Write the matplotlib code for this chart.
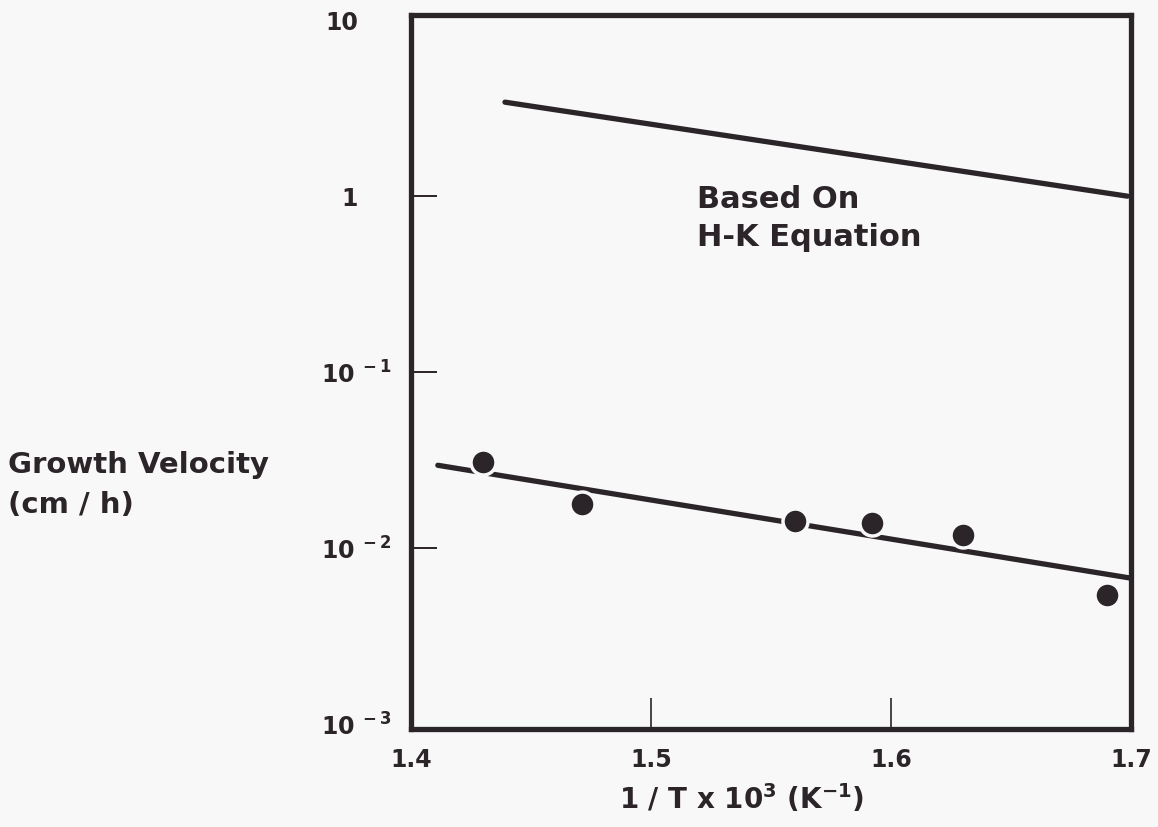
"""Growth velocity vs reciprocal temperature (log scale)."""

import matplotlib
matplotlib.use('Agg')
import matplotlib.pyplot as plt
import matplotlib.transforms as mtransforms
import numpy as np

plt.rcParams['font.family'] = ['DejaVu Sans']
plt.rcParams['mathtext.fontset'] = 'dejavusans'

INK = '#2b2428'
PAPER = '#f8f8f8'

# measured points
inv_t = [1.430, 1.471, 1.560, 1.592, 1.630, 1.690]
velocity = [0.0308, 0.0178, 0.0142, 0.0139, 0.0119, 0.0054]

# fitted line through the measurements
fit_x = [1.411, 1.700]
fit_y = [0.0296, 0.00676]

# line based on H-K equation
hk_x = [1.439, 1.6985]
hk_y = [3.42, 1.0]

x_ticks = [1.4, 1.5, 1.6, 1.7]
x_labels = ['1.4', '1.5', '1.6', '1.7']
y_ticks = [1e-3, 1e-2, 1e-1, 1, 10]
y_labels = [r'$\mathbf{10^{\ -3}}$', r'$\mathbf{10^{\ -2}}$', r'$\mathbf{10^{\ -1}}$',
            '1', '10']

fig = plt.figure(figsize=(11.58, 8.27), dpi=100, facecolor=PAPER)
ax = fig.add_axes([0.3553, 0.1185, 0.6214, 0.8634], facecolor=PAPER)

ax.plot(hk_x, hk_y, color=INK, lw=3.8, solid_capstyle='round', zorder=2)
ax.plot(fit_x, fit_y, color=INK, lw=3.8, solid_capstyle='round', zorder=2)
ax.plot(inv_t, velocity, 'o', ms=18, color=INK, mec=PAPER, mew=2.5, zorder=3)

ax.set_yscale('log')
ax.set_xlim(1.4, 1.7)
ax.set_ylim(0.00094, 10.7)

ax.set_xticks(x_ticks)
ax.set_xticklabels(x_labels)
ax.set_yticks(y_ticks)
ax.set_yticklabels(y_labels)
ax.minorticks_off()
ax.tick_params(axis='both', direction='in', colors=INK, labelsize=17)
ax.tick_params(axis='x', length=22, width=1.2, pad=14)
ax.tick_params(axis='y', length=19, width=1.4, pad=14)
for lab in ax.get_xticklabels() + ax.get_yticklabels():
    lab.set_fontweight('bold')

# end ticks sit on the frame, hide them
for ticks in (ax.xaxis.get_major_ticks(), ax.yaxis.get_major_ticks()):
    ticks[0].tick1line.set_visible(False)
    ticks[-1].tick1line.set_visible(False)

# plain "1" and "10" line up with the base of the powers, not their exponent
shift = mtransforms.ScaledTranslation(-0.34, 0, fig.dpi_scale_trans)
for tick in ax.yaxis.get_major_ticks()[3:]:
    tick.label1.set_transform(tick.label1.get_transform() + shift)

for s in ax.spines.values():
    s.set_linewidth(3.8)
    s.set_color(INK)

ax.text(1.519, 1.16, 'Based On\nH-K Equation', fontsize=22, fontweight='bold',
        color=INK, ha='left', va='top', linespacing=1.4)

ax.set_xlabel(r'1 / T x 10$^{\mathbf{3}}$ (K$^{\mathbf{-1}}$)', fontsize=20,
              fontweight='bold', color=INK)
ax.xaxis.set_label_coords(0.459, -0.075)

fig.text(0.007, 0.413, 'Growth Velocity\n(cm / h)', fontsize=21, fontweight='bold',
         color=INK, ha='left', va='center', linespacing=1.55)

fig.savefig('out.png', dpi=100, facecolor=PAPER)
